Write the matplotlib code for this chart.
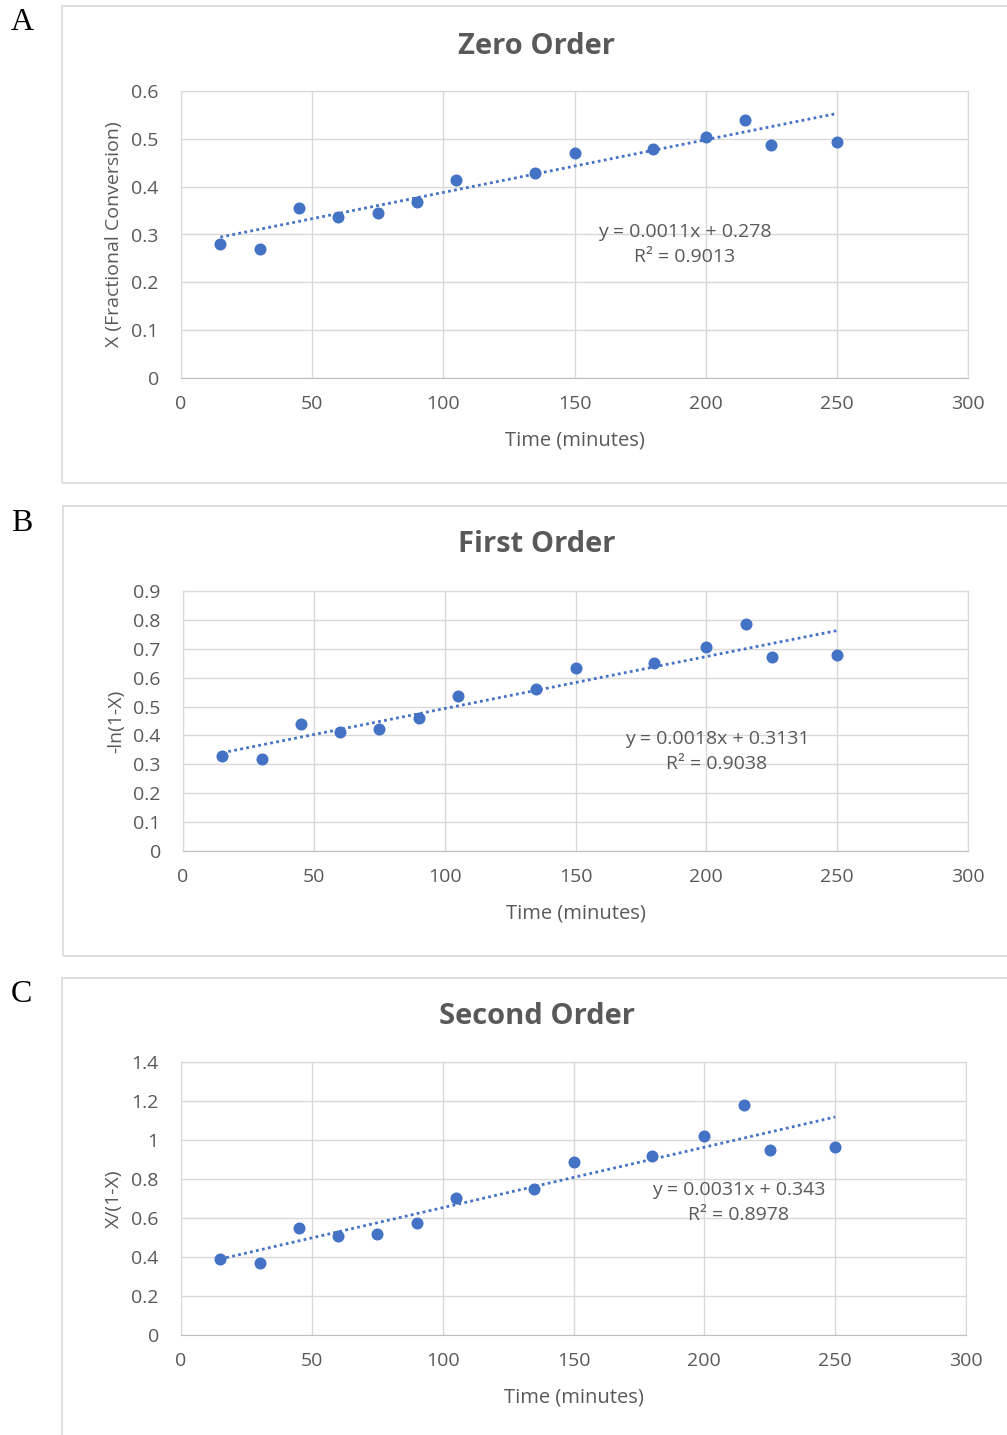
import numpy as np
import matplotlib.pyplot as plt
from matplotlib.patches import Rectangle
from matplotlib.ticker import FuncFormatter

# Data
time_min = [15, 30, 45, 60, 75, 90, 105, 135, 150, 180, 200, 215, 225, 250]
zero_order = [0.28, 0.27, 0.355, 0.337, 0.345, 0.367, 0.413, 0.428, 0.47, 0.478, 0.503, 0.54, 0.487, 0.493]
first_order = [0.33, 0.318, 0.438, 0.413, 0.424, 0.46, 0.538, 0.562, 0.635, 0.652, 0.706, 0.786, 0.672, 0.677]
second_order = [0.39, 0.37, 0.55, 0.51, 0.52, 0.575, 0.705, 0.75, 0.885, 0.92, 1.02, 1.18, 0.95, 0.965]

# trendline coefficients (slope, intercept, R^2) as printed on the chart
fit_zero = (0.0011, 0.278, 0.9013)
fit_first = (0.0018, 0.3131, 0.9038)
fit_second = (0.0031, 0.343, 0.8978)

W, H = 1007, 1435
fig = plt.figure(figsize=(W / 100, H / 100), dpi=100)
plt.rcParams['font.family'] = ['Open Sans', 'DejaVu Sans']

blue = '#4472C4'
grey_txt = '#595959'
grid_c = '#d9d9d9'


def frac(l, t, r, b):
    return [l / W, 1 - b / H, (r - l) / W, (b - t) / H]


def panel(letter, box, plot, title, title_y, ylabel, ydata, fit, ymax, ystep, eq_pos):
    # outer chart box
    bl, bt, br, bb = box
    fig.patches.append(Rectangle((bl / W, 1 - bb / H), (br - bl) / W, (bb - bt) / H,
                                 transform=fig.transFigure, fill=False,
                                 edgecolor=grid_c, lw=1.2))
    fig.text(11 / W, 1 - (bt + 17) / H, letter, family='Liberation Serif',
             fontsize=23, va='center', ha='left', color='black')
    fig.text(537 / W, 1 - title_y / H, title, fontsize=21, fontweight='bold',
             color=grey_txt, ha='center', va='center')

    ax = fig.add_axes(frac(*plot))
    ax.set_xlim(0, 300)
    ax.set_ylim(0, ymax)
    ax.set_xticks(np.arange(0, 301, 50))
    ax.set_yticks(np.arange(0, ymax + ystep / 2, ystep))
    ax.yaxis.set_major_formatter(FuncFormatter(lambda v, p: '%g' % round(v, 2)))
    ax.grid(True, color=grid_c, lw=1)
    ax.set_axisbelow(True)
    for s in ax.spines.values():
        s.set_color(grid_c)
    ax.spines['bottom'].set_color('#bfbfbf')
    ax.tick_params(length=0, labelsize=14, colors=grey_txt)
    ax.tick_params(axis='x', pad=12)
    ax.tick_params(axis='y', pad=16)

    ax.scatter(time_min, ydata, s=75, color=blue, zorder=3, linewidths=0)
    xs = np.array([time_min[0], time_min[-1]])
    ax.plot(xs, fit[0] * xs + fit[1], color=blue, lw=2, ls=(0, (1, 1.2)), zorder=2)
    ax.text(eq_pos[0], eq_pos[1], 'y = %gx + %g\nR² = %.4f' % fit, ha='center', va='center',
            fontsize=14, color=grey_txt, linespacing=1.5)

    ax.set_xlabel('Time (minutes)', fontsize=14.5, color=grey_txt, labelpad=13)
    ax.set_ylabel(ylabel, fontsize=14, color=grey_txt, labelpad=6)
    return ax


panel('A', (62, 6, 1012, 483), (181, 91, 968, 378), 'Zero Order', 46,
      'X (Fractional Conversion)', zero_order, fit_zero, 0.6, 0.1, (192, 0.279))
panel('B', (63, 506, 1012, 956), (183, 591, 968, 851), 'First Order', 545,
      '-ln(1-X)', first_order, fit_first, 0.9, 0.1, (204, 0.343))
panel('C', (62, 978, 1012, 1445), (181, 1062, 966, 1335), 'Second Order', 1017,
      'X/(1-X)', second_order, fit_second, 1.4, 0.2, (213, 0.677))

fig.savefig('out.png', dpi=100)
